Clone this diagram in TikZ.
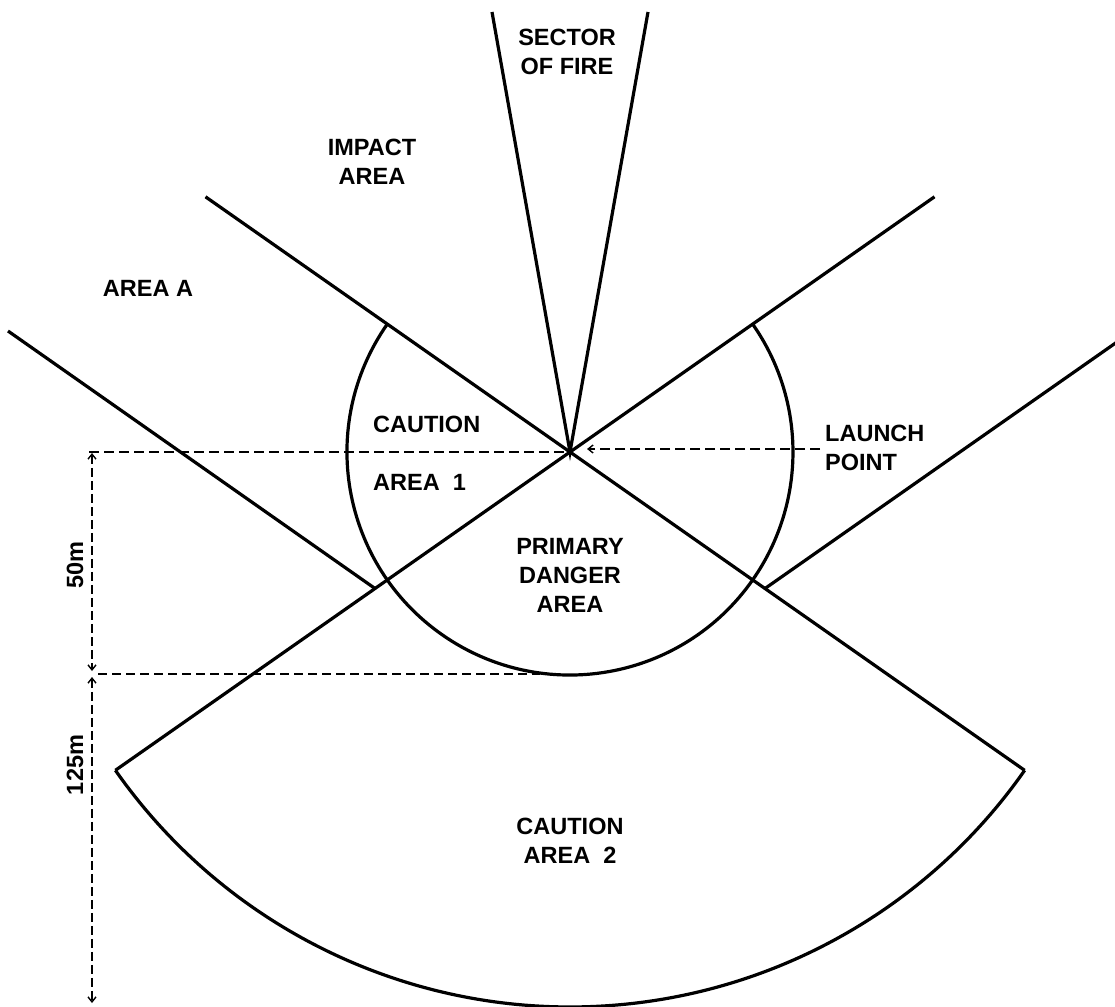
\documentclass[tikz,border=0pt]{standalone}
\usepackage{fontspec}
\setmainfont{Liberation Sans}
\usetikzlibrary{arrows.meta}
\begin{document}
\begin{tikzpicture}[x=1pt,y=-1pt,
  zone/.style={line width=3.2pt, black},
  guide/.style={line width=2.2pt, dash pattern=on 10pt off 5pt},
  thinguide/.style={line width=1.8pt, dash pattern=on 9pt off 5pt},
  barb/.tip={Straight Barb[length=5pt,width=8pt,line width=1.4pt]},
  dimline/.style={line width=1.9pt, dash pattern=on 9pt off 4pt, barb-barb},
  lbl/.style={font=\bfseries\fontsize{23.5}{29}\selectfont, inner sep=0pt, align=center}]
\useasboundingbox (0,0) rectangle (1115,1006);
% key points
\coordinate (L) at (570,452);
\coordinate (l1top) at (205.5,196.8);
\coordinate (l1bot) at (1024.6,770.3);
\coordinate (l2top) at (934.5,196.8);
\coordinate (l2bot) at (115.4,770.3);
\coordinate (pLa) at (375,588.5);
\coordinate (pLb) at (8,331);
\coordinate (pRa) at (765,588.5);
\coordinate (pRb) at (1120,339.9);
\coordinate (s1) at (492,12);
\coordinate (s2) at (648,12);
\coordinate (c1s) at (387.3,324.1);
% main lines
\draw[zone] (l1top) -- (L) -- (l1bot);
\draw[zone] (l2top) -- (L) -- (l2bot);
\draw[zone] (pLa) -- (pLb);
\draw[zone] (pRa) -- (pRb);
\draw[zone] (s1) -- (L) -- (s2);
% caution area 1 circle
\draw[zone] (c1s) arc[start angle=145, end angle=395, radius=223pt];
% caution area 2 arc
\draw[zone] (l2bot) arc[start angle=215, end angle=325, radius=555pt];
% guides
\coordinate (g1) at (89,452);
\coordinate (g2a) at (98,674);
\coordinate (g2b) at (540,674);
\coordinate (lpa) at (820,449);
\coordinate (lpb) at (587,449);
\draw[guide] (g1) -- (L);
\draw[thinguide] (g2a) -- (g2b);
\draw[guide, -barb] (lpa) -- (lpb);
\coordinate (d1) at (92,453);
\coordinate (d2) at (92,671);
\coordinate (d3) at (92,677);
\coordinate (d4) at (92,1003);
\draw[dimline] (d1) -- (d2);
\draw[dimline] (d3) -- (d4);
% labels
\node[lbl] (sector) at (567,51.5) {SECTOR\\OF FIRE};
\node[lbl] (impact) at (372,161.5) {IMPACT\\AREA};
\node[lbl] (areaA) at (148,288.5) {AREA A};
\node[lbl, anchor=base west] (caut1) at (373,432) {CAUTION};
\node[lbl, anchor=base west] (area1) at (373,490) {AREA\ \ 1};
\node[lbl, align=left, anchor=west] (launch) at (825,447.5) {LAUNCH\\POINT};
\node[lbl] (primary) at (570,575) {PRIMARY\\DANGER\\AREA};
\node[lbl] (caut2) at (570,841) {CAUTION\\AREA\ \ 2};
\node[lbl, rotate=90] (m50) at (75,565) {50m};
\node[lbl, rotate=90] (m125) at (75,765) {125m};
\end{tikzpicture}
\end{document}
